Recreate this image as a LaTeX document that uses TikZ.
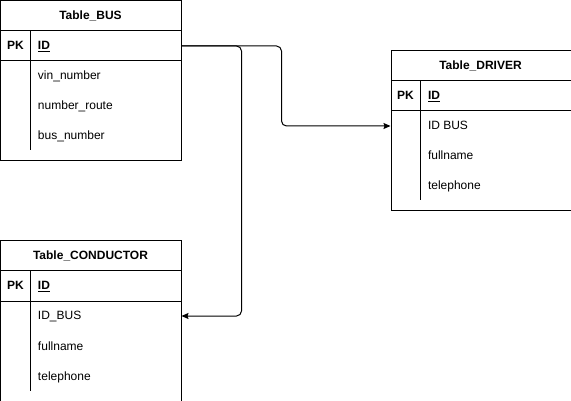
\documentclass[tikz,border=0pt]{standalone}
\usepackage{fontspec}
\setmainfont{Liberation Sans}
\usetikzlibrary{arrows.meta}
\begin{document}
\begin{tikzpicture}[x=1pt,y=-1pt,line width=1pt,
  font=\fontsize{12}{14}\selectfont,
  tbl/.style={draw,minimum width=180pt,minimum height=160pt,anchor=north west,inner sep=0pt},
  rowbox/.style={draw,minimum width=180pt,minimum height=30pt,anchor=north west,inner sep=0pt},
  ttl/.style={anchor=base,inner sep=0pt,font=\fontsize{12}{14}\selectfont\bfseries},
  pk/.style={anchor=base,inner sep=0pt,font=\fontsize{12}{14}\selectfont\bfseries},
  fld/.style={anchor=base west,inner sep=0pt},
  conn/.style={line width=1pt,rounded corners=5pt,-{Stealth[length=7pt,width=6pt,inset=1pt]}}]
\useasboundingbox (-0.5,-0.5) rectangle (570.5,400.5);

% Table_BUS
\node[tbl] (bus) at (0,0) {};
\node[ttl] (bust) at (90,19.5) {Table\_BUS};
\node[rowbox] (busid) at (0,30) {};
\draw (30,30) -- (30,150);
\node[pk] (buspk) at (15,49.5) {PK};
\node[fld] (busidt) at (37,49.5) {\bfseries\underline{ID}};
\node[fld] (busf1) at (37,79.5) {vin\_number};
\node[fld] (busf2) at (37,109.5) {number\_route};
\node[fld] (busf3) at (37,139.5) {bus\_number};

% Table_DRIVER
\node[tbl] (drv) at (390,50) {};
\node[ttl] (drvt) at (480,69.5) {Table\_DRIVER};
\node[rowbox] (drvid) at (390,80) {};
\draw (420,80) -- (420,200);
\node[pk] (drvpk) at (405,99.5) {PK};
\node[fld] (drvidt) at (427,99.5) {\bfseries\underline{ID}};
\node[rowbox,draw=none] (drvfk) at (390,110) {};
\node[fld] (drvf1) at (427,129.5) {ID BUS};
\node[fld] (drvf2) at (427,159.5) {fullname};
\node[fld] (drvf3) at (427,189.5) {telephone};

% Table_CONDUCTOR
\node[tbl] (cnd) at (0,240) {};
\node[ttl] (cndt) at (90,259.5) {Table\_CONDUCTOR};
\node[rowbox] (cndid) at (0,270) {};
\draw (30,270) -- (30,390);
\node[pk] (cndpk) at (15,289.5) {PK};
\node[fld] (cndidt) at (37,289.5) {\bfseries\underline{ID}};
\node[rowbox,draw=none] (cndfk) at (0,300) {};
\node[fld] (cndf1) at (37,319.5) {ID\_BUS};
\node[fld] (cndf2) at (37,349.5) {fullname};
\node[fld] (cndf3) at (37,379.5) {telephone};

% connectors
\draw[conn] (busid.east) -- ++(100,0) |- (drvfk.west);
\draw[conn] (busid.east) -- ++(60,0) |- (cndfk.east);
\end{tikzpicture}
\end{document}
